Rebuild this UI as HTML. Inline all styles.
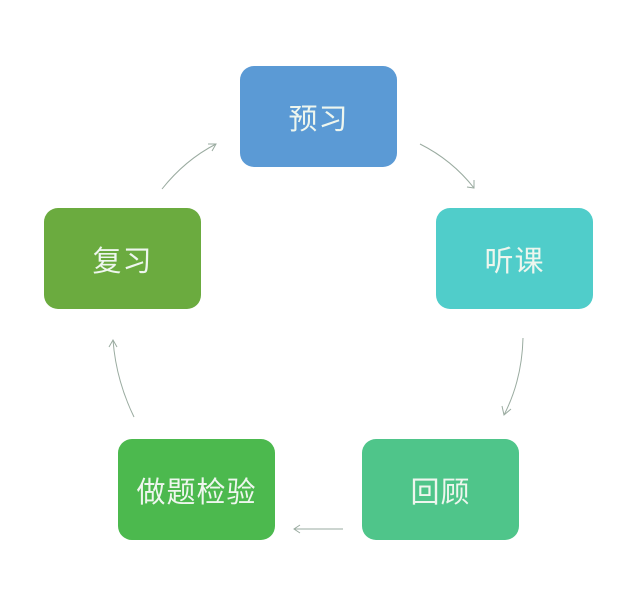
<!DOCTYPE html>
<html><head><meta charset="utf-8"><style>
body{margin:0;width:640px;height:613px;background:#fff;position:relative;overflow:hidden;font-family:"Liberation Sans","Noto Sans CJK SC",sans-serif}
.b{position:absolute;width:157px;height:101px;border-radius:14px;color:#eef6ee;font-size:29px;display:flex;align-items:center;justify-content:center;letter-spacing:1px}
svg{position:absolute;left:0;top:0}
</style></head><body>
<div class="b" style="left:240px;top:66px;background:#5b9ad5">预习</div>
<div class="b" style="left:436px;top:208px;background:#50cdca">听课</div>
<div class="b" style="left:362px;top:439px;background:#4fc58a">回顾</div>
<div class="b" style="left:118px;top:439px;background:#4cb94e">做题检验</div>
<div class="b" style="left:44px;top:208px;background:#6bab3f">复习</div>
<svg width="640" height="613" fill="none" stroke="#9aaba0" stroke-width="1">
<path d="M162 189 Q185 160 216 144"/><path d="M208 144 L216 144 L212 151"/>
<path d="M420 144 Q452 160 474 188"/><path d="M467 187 L474 188 L474 180"/>
<path d="M523 338 Q522 380 504 415"/><path d="M502 406 L504 415 L511 409"/>
<path d="M343 529 L294 529"/><path d="M300 525 L294 529 L300 533"/>
<path d="M134 417 Q116 380 113 340"/><path d="M109 347 L113 340 L117 347"/>
</svg>
</body></html>
